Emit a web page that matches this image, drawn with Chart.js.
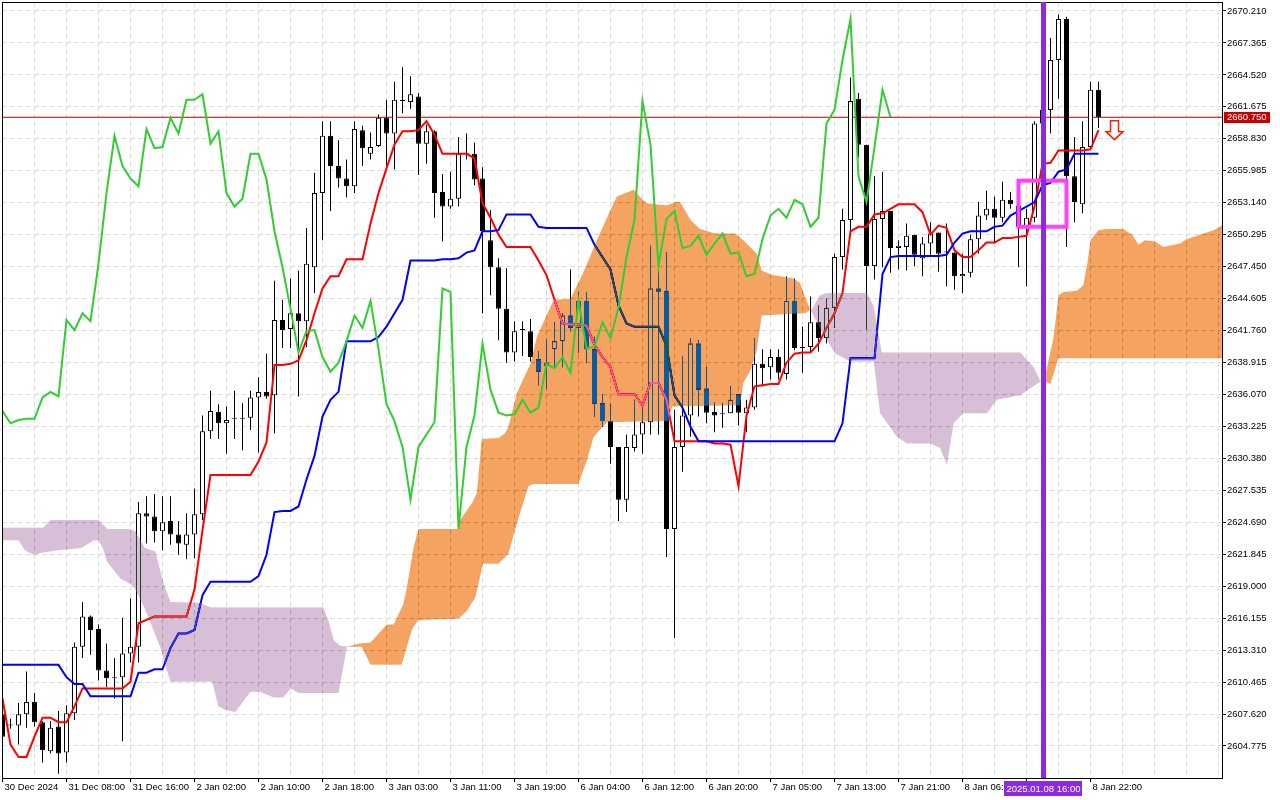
<!DOCTYPE html>
<html>
<head>
<meta charset="utf-8">
<title>XAUUSD H1 Ichimoku</title>
<script src="https://cdn.jsdelivr.net/npm/chart.js@4.4.1/dist/chart.umd.min.js"></script>
<style>
  html, body { margin: 0; padding: 0; background: #fff; }
  #chartBox { width: 1280px; height: 800px; }
</style>
</head>
<body>
<div id="chartBox"><canvas id="ichimokuChart" width="1280" height="800"></canvas></div>
<script>
// H1 candles, index 0 = leftmost bar
const opens = [
  2607.6, 2606.7, 2606.6, 2607.6, 2608.7, 2606.9, 2604.3, 2606.5, 2604.2, 2607.7,
  2613.6, 2616.3, 2615.2, 2611.5, 2610.9, 2610.9, 2613.0, 2613.6, 2625.5, 2625.2,
  2623.9, 2624.8, 2623.6, 2622.7, 2623.6, 2625.4, 2632.8, 2634.5, 2633.5, 2633.9,
  2634.0, 2634.0, 2635.8, 2636.3, 2636.0, 2642.7, 2641.9, 2643.3, 2642.6, 2647.4,
  2654.0, 2659.1, 2656.4, 2655.3, 2654.6, 2659.6, 2657.5, 2658.2, 2660.7, 2659.3,
  2662.2, 2662.1, 2662.6, 2658.4, 2659.5, 2654.1, 2652.8, 2653.5, 2657.5, 2657.5,
  2655.3, 2649.8, 2647.4, 2643.7, 2639.8, 2641.8, 2641.7, 2639.2, 2638.6, 2640.1,
  2640.8, 2643.1, 2642.0, 2644.4, 2640.1, 2635.3, 2633.7, 2631.4, 2626.7, 2631.3,
  2632.5, 2633.6, 2645.5, 2645.3, 2624.1, 2631.4, 2634.2, 2640.6, 2636.6, 2634.5,
  2634.3, 2634.4, 2636.1, 2634.4, 2634.9, 2638.8, 2638.5, 2639.4, 2637.9, 2644.4,
  2640.2, 2640.3, 2642.5, 2641.1, 2643.8, 2648.3, 2651.6, 2662.4, 2658.3, 2647.5,
  2651.7, 2652.4, 2649.1, 2649.2, 2650.3, 2648.2, 2649.5, 2650.5, 2648.7, 2648.7,
  2646.6, 2646.9, 2649.9, 2652.0, 2652.6, 2651.8, 2653.4, 2652.9, 2651.0, 2651.8,
  2660.2, 2661.4, 2665.85, 2669.5, 2655.5, 2653.0, 2658.1, 2663.2
];
const highs = [
  2608.6, 2607.2, 2608.6, 2611.4, 2609.5, 2607.0, 2607.0, 2607.9, 2608.4, 2614.0,
  2617.6, 2616.4, 2615.6, 2613.9, 2612.6, 2616.2, 2617.9, 2626.5, 2627.0, 2627.2,
  2627.0, 2627.0, 2624.8, 2625.5, 2627.7, 2634.2, 2636.4, 2635.2, 2635.0, 2636.4,
  2635.3, 2636.4, 2637.6, 2639.7, 2646.2, 2644.5, 2646.4, 2647.1, 2650.9, 2655.8,
  2660.4, 2660.4, 2658.7, 2657.0, 2660.4, 2660.0, 2659.4, 2661.0, 2662.3, 2663.9,
  2665.2, 2664.4, 2662.9, 2660.1, 2659.6, 2655.7, 2655.9, 2659.0, 2659.3, 2658.5,
  2656.3, 2652.5, 2648.2, 2647.3, 2642.6, 2642.6, 2642.8, 2639.9, 2641.0, 2642.5,
  2643.3, 2647.2, 2645.2, 2645.2, 2641.2, 2636.1, 2635.2, 2631.4, 2632.5, 2635.6,
  2635.0, 2649.3, 2647.5, 2648.7, 2634.7, 2639.5, 2641.1, 2640.9, 2638.5, 2635.4,
  2635.3, 2636.8, 2636.1, 2635.6, 2641.1, 2640.1, 2640.1, 2640.1, 2646.6, 2646.4,
  2642.1, 2644.8, 2644.0, 2644.6, 2648.6, 2652.6, 2664.3, 2662.9, 2658.3, 2655.5,
  2655.9, 2652.4, 2649.8, 2651.3, 2650.3, 2650.1, 2651.4, 2650.5, 2651.3, 2648.7,
  2648.6, 2650.3, 2653.2, 2654.2, 2653.7, 2655.0, 2654.1, 2653.6, 2652.6, 2660.4,
  2662.5, 2667.8, 2669.9, 2669.7, 2659.0, 2660.4, 2663.9, 2663.9
];
const lows = [
  2604.9, 2606.3, 2604.9, 2606.4, 2606.5, 2603.3, 2604.1, 2602.3, 2603.3, 2607.1,
  2612.6, 2612.9, 2610.6, 2610.0, 2609.0, 2605.2, 2612.2, 2612.2, 2622.8, 2622.9,
  2622.2, 2622.7, 2621.8, 2621.4, 2621.5, 2624.9, 2632.1, 2632.1, 2630.8, 2632.1,
  2631.1, 2632.9, 2630.9, 2635.7, 2632.6, 2640.2, 2640.2, 2635.9, 2640.3, 2645.1,
  2649.8, 2652.4, 2654.5, 2653.6, 2654.0, 2656.4, 2657.0, 2658.1, 2656.4, 2656.1,
  2661.1, 2661.5, 2655.6, 2656.6, 2651.8, 2649.7, 2652.6, 2652.8, 2657.0, 2654.7,
  2643.3, 2644.9, 2640.9, 2638.9, 2639.0, 2639.5, 2639.0, 2636.9, 2636.6, 2638.5,
  2638.5, 2641.7, 2639.8, 2638.9, 2634.1, 2633.2, 2629.9, 2624.8, 2625.6, 2631.0,
  2630.8, 2632.5, 2632.5, 2621.6, 2614.4, 2629.2, 2632.3, 2634.1, 2633.5, 2632.7,
  2633.1, 2634.4, 2633.3, 2632.7, 2634.7, 2636.8, 2637.4, 2637.4, 2637.4, 2640.0,
  2638.0, 2639.8, 2639.9, 2640.6, 2642.0, 2647.2, 2650.4, 2657.2, 2641.8, 2646.3,
  2647.4, 2646.9, 2647.2, 2647.1, 2647.5, 2646.6, 2648.5, 2647.0, 2645.7, 2645.4,
  2645.1, 2646.5, 2648.6, 2651.6, 2649.5, 2651.4, 2652.6, 2647.4, 2645.7, 2651.4,
  2657.5, 2659.3, 2662.4, 2649.2, 2651.4, 2652.2, 2657.9, 2659.8
];
const closes = [
  2605.6, 2606.6, 2607.6, 2608.7, 2606.9, 2604.4, 2606.4, 2604.1, 2607.7, 2613.6,
  2616.3, 2615.1, 2611.5, 2610.8, 2610.8, 2613.0, 2613.6, 2625.5, 2625.2, 2623.9,
  2624.7, 2623.6, 2622.8, 2623.6, 2625.4, 2632.8, 2634.6, 2633.5, 2633.8, 2633.9,
  2633.9, 2635.8, 2636.3, 2635.9, 2642.7, 2641.8, 2643.3, 2642.6, 2647.7, 2654.0,
  2659.1, 2656.4, 2655.3, 2654.6, 2659.7, 2658.0, 2658.1, 2660.7, 2659.3, 2662.3,
  2662.3, 2662.8, 2658.4, 2659.5, 2654.0, 2652.8, 2653.5, 2657.5, 2657.5, 2655.2,
  2650.6, 2647.4, 2643.7, 2639.8, 2641.7, 2641.8, 2639.4, 2638.1, 2638.9, 2640.8,
  2643.1, 2642.0, 2644.4, 2640.1, 2635.2, 2633.7, 2631.4, 2626.7, 2631.4, 2632.5,
  2633.6, 2645.5, 2645.2, 2624.1, 2631.4, 2634.2, 2640.6, 2636.5, 2634.45, 2634.2,
  2634.3, 2635.6, 2634.45, 2634.9, 2638.8, 2638.4, 2639.4, 2638.0, 2644.4, 2640.2,
  2640.3, 2642.5, 2641.1, 2643.8, 2648.3, 2651.6, 2662.2, 2658.3, 2647.5, 2651.7,
  2652.4, 2649.1, 2649.3, 2650.2, 2648.5, 2649.5, 2650.4, 2648.6, 2648.7, 2646.6,
  2646.8, 2649.9, 2652.0, 2652.6, 2651.8, 2653.4, 2653.0, 2651.0, 2651.8, 2660.2,
  2661.4, 2665.85, 2669.5, 2655.5, 2653.2, 2658.1, 2663.2, 2660.75
];

// Ichimoku lines
const tenkan = [
  2609.0, 2604.9, 2603.8, 2603.8, 2605.6, 2607.3, 2607.3, 2606.9, 2606.9, 2608.3,
  2609.9, 2609.9, 2609.9, 2609.9, 2609.9, 2609.9, 2610.5, 2615.7, 2616.0, 2616.3,
  2616.3, 2616.3, 2616.3, 2616.3, 2618.7, 2624.0, 2628.9, 2628.9, 2628.9, 2628.9,
  2628.9, 2628.9, 2630.1, 2631.8, 2638.7, 2638.7, 2638.8, 2639.1, 2640.9, 2643.3,
  2645.5, 2646.6, 2646.6, 2648.1, 2648.1, 2648.1, 2651.3, 2654.0, 2656.2, 2658.3,
  2659.5, 2659.5, 2659.6, 2660.4, 2659.2, 2657.5, 2657.5, 2657.5, 2657.5, 2657.1,
  2653.1, 2651.8, 2650.3, 2649.2, 2649.2, 2649.2, 2649.2, 2648.0, 2646.7, 2644.5,
  2642.4, 2642.3, 2642.3, 2642.2, 2640.5, 2639.4, 2638.5, 2636.1, 2636.1, 2636.1,
  2635.1, 2637.1, 2637.1, 2635.6, 2631.9, 2631.9, 2631.9, 2631.9, 2631.9, 2631.7,
  2631.7, 2631.6, 2627.9, 2634.2, 2636.8, 2636.9, 2637.0, 2637.0, 2638.9, 2639.7,
  2639.8, 2639.8, 2640.6, 2642.0, 2643.3, 2645.1, 2650.6, 2651.0, 2651.0, 2652.1,
  2652.2, 2652.6, 2653.0, 2653.0, 2653.0, 2652.3, 2650.3, 2651.1, 2650.9, 2648.9,
  2648.3, 2648.3, 2648.9, 2649.6, 2649.6, 2650.0, 2650.0, 2650.1, 2650.2, 2652.8,
  2656.6, 2656.7, 2657.8, 2657.8, 2657.8, 2657.8, 2657.9, 2659.6
];
const kijun = [
  2612.0, 2612.0, 2612.0, 2612.0, 2612.0, 2612.0, 2612.0, 2612.0, 2610.9, 2610.3,
  2610.3, 2609.2, 2609.2, 2609.2, 2609.2, 2609.2, 2609.2, 2611.3, 2611.3, 2611.6,
  2611.6, 2613.5, 2614.8, 2614.8, 2615.1, 2618.2, 2619.4, 2619.4, 2619.4, 2619.4,
  2619.4, 2619.4, 2619.9, 2621.8, 2625.6, 2625.7, 2625.7, 2626.1, 2628.5, 2630.6,
  2634.1, 2635.6, 2636.3, 2640.8, 2640.8, 2640.8, 2640.8, 2641.2, 2642.1, 2643.3,
  2644.5, 2648.0, 2648.0, 2648.0, 2648.0, 2648.1, 2648.1, 2648.2, 2648.7, 2648.9,
  2650.6, 2650.6, 2650.7, 2652.1, 2652.1, 2652.1, 2652.1, 2651.0, 2650.9, 2650.9,
  2650.9, 2650.9, 2650.9, 2650.9, 2649.4, 2648.3, 2647.2, 2644.0, 2642.4, 2642.1,
  2642.1, 2642.1, 2642.1, 2640.4, 2636.0, 2634.9, 2633.2, 2631.9, 2631.9, 2631.9,
  2631.9, 2631.9, 2631.9, 2631.9, 2631.9, 2631.9, 2631.9, 2631.9, 2631.9, 2631.9,
  2631.9, 2631.9, 2631.9, 2631.9, 2631.9, 2633.5, 2639.3, 2639.3, 2639.3, 2639.3,
  2646.8, 2648.3, 2648.4, 2648.4, 2648.4, 2648.4, 2648.4, 2648.4, 2648.5, 2649.6,
  2650.4, 2650.6, 2650.6, 2650.6, 2651.0, 2651.1, 2652.0, 2652.4, 2652.8, 2653.2,
  2654.7, 2654.9, 2655.9, 2656.1, 2657.5, 2657.5, 2657.5, 2657.5
];
const chikou = [
  2634.6, 2633.5, 2633.8, 2633.9, 2633.9, 2635.8, 2636.3, 2635.9, 2642.7, 2641.8,
  2643.3, 2642.6, 2647.7, 2654.0, 2659.1, 2656.4, 2655.3, 2654.6, 2659.7, 2658.0,
  2658.1, 2660.7, 2659.3, 2662.3, 2662.3, 2662.8, 2658.4, 2659.5, 2654.0, 2652.8,
  2653.5, 2657.5, 2657.5, 2655.2, 2650.6, 2647.4, 2643.7, 2639.8, 2641.7, 2641.8,
  2639.4, 2638.1, 2638.9, 2640.8, 2643.1, 2642.0, 2644.4, 2640.1, 2635.2, 2633.7,
  2631.4, 2626.7, 2631.4, 2632.5, 2633.6, 2645.5, 2645.2, 2624.1, 2631.4, 2634.2,
  2640.6, 2636.5, 2634.45, 2634.2, 2634.3, 2635.6, 2634.45, 2634.9, 2638.8, 2638.4,
  2639.4, 2638.0, 2644.4, 2640.2, 2640.3, 2642.5, 2641.1, 2643.8, 2648.3, 2651.6,
  2662.2, 2658.3, 2647.5, 2651.7, 2652.4, 2649.1, 2649.3, 2650.2, 2648.5, 2649.5,
  2650.4, 2648.6, 2648.7, 2646.6, 2646.8, 2649.9, 2652.0, 2652.6, 2651.8, 2653.4,
  2653.0, 2651.0, 2651.8, 2660.2, 2661.4, 2665.85, 2669.5, 2655.5, 2653.2, 2658.1,
  2663.2, 2660.75
];
// cloud edges: [bar index, price], shifted 26 bars forward
const spanA = [
  [-0.3, 2623.1], [2.0, 2623.1], [2.8, 2622.2], [3.9, 2621.8], [5.1, 2622.0], [7.0, 2622.2],
  [9.9, 2622.4], [11.4, 2623.1], [12.0, 2623.1], [12.6, 2622.3], [13.05, 2621.2], [14.7, 2619.7],
  [16.4, 2619.0], [17.8, 2617.0], [19.7, 2613.6], [20.55, 2611.5], [21.0, 2610.5], [26.2, 2610.5],
  [27.0, 2608.3], [27.8, 2608.0], [29.1, 2607.8], [31.0, 2609.6], [32.2, 2609.6], [33.9, 2609.1],
  [35.1, 2609.1], [36.0, 2609.9], [37.0, 2609.5], [42.0, 2609.5], [42.6, 2611.8], [43.05, 2613.6],
  [43.5, 2613.7], [44.7, 2613.9], [46.0, 2614.0], [48.05, 2615.6], [48.9, 2615.6], [50.1, 2617.4],
  [50.55, 2618.9], [51.4, 2622.5], [52.0, 2624.1], [57.0, 2624.1], [57.2, 2624.9], [58.7, 2626.4],
  [59.3, 2627.3], [59.9, 2632.1], [62.0, 2632.2], [62.8, 2632.6], [63.25, 2633.2], [64.3, 2636.2],
  [66.0, 2638.8], [66.8, 2641.2], [68.9, 2644.5], [71.0, 2644.6], [72.6, 2646.9], [74.3, 2649.8],
  [76.0, 2652.5], [76.8, 2653.7], [78.9, 2654.3], [79.9, 2653.5], [80.55, 2653.1], [83.05, 2652.9],
  [84.1, 2653.2], [84.7, 2653.2], [86.0, 2651.6], [87.2, 2650.8], [89.1, 2650.4], [91.6, 2650.4],
  [92.6, 2649.8], [94.3, 2648.6], [94.9, 2647.1], [96.2, 2646.7], [97.2, 2646.6], [98.9, 2646.4],
  [99.7, 2646.0], [100.3, 2644.8], [101.0, 2643.6], [101.2, 2643.3], [102.8, 2641.2], [104.1, 2639.7],
  [106.0, 2639.0], [108.9, 2639.0], [109.7, 2634.4], [111.8, 2632.3], [113.05, 2631.7], [116.0, 2631.7],
  [117.2, 2631.3], [118.05, 2629.8], [118.9, 2633.5], [120.1, 2634.4], [123.05, 2634.4], [124.3, 2635.6],
  [127.2, 2636.0], [129.7, 2637.2], [130.3, 2637.6], [131.4, 2641.2], [132.0, 2644.9], [132.6, 2645.2],
  [134.3, 2645.3], [135.1, 2645.8], [135.6, 2647.7], [136.0, 2649.8], [137.0, 2650.7], [138.05, 2650.8],
  [140.1, 2650.8], [141.2, 2650.3], [142.0, 2649.4], [142.8, 2649.8], [144.1, 2649.7], [145.1, 2649.2],
  [147.2, 2649.5], [148.0, 2649.9], [149.7, 2650.3], [151.4, 2650.7], [152.4, 2651.1], [153.5, 2651.4]
];
const spanB = [
  [-0.3, 2624.2], [5.1, 2624.2], [6.0, 2624.9], [12.0, 2624.9], [13.1, 2624.1], [15.8, 2624.1],
  [16.6, 2623.9], [17.8, 2622.4], [19.1, 2622.1], [20.1, 2619.3], [21.0, 2617.6], [24.7, 2617.5],
  [26.0, 2617.1], [40.1, 2617.1], [40.75, 2615.9], [41.4, 2614.2], [42.2, 2613.7], [43.25, 2613.6],
  [44.9, 2613.6], [46.0, 2612.0], [49.9, 2612.0], [50.55, 2613.6], [51.2, 2615.2], [52.0, 2616.0],
  [57.0, 2616.1], [58.05, 2616.8], [59.1, 2618.0], [59.5, 2619.2], [60.05, 2621.0], [62.0, 2621.0],
  [63.25, 2621.9], [64.3, 2624.6], [65.75, 2627.9], [66.4, 2628.1], [72.0, 2628.1], [73.05, 2630.2],
  [73.9, 2632.3], [75.55, 2633.6], [83.25, 2633.7], [83.7, 2635.0], [92.2, 2635.1], [92.6, 2637.1],
  [93.5, 2638.2], [94.3, 2640.0], [94.9, 2643.1], [100.3, 2643.3], [101.2, 2643.7], [102.2, 2644.9],
  [103.05, 2645.1], [108.05, 2645.1], [108.9, 2643.9], [109.7, 2640.6], [109.9, 2639.8], [127.2, 2639.8],
  [128.9, 2638.5], [129.7, 2637.3], [130.3, 2637.2], [131.0, 2637.0], [132.0, 2639.3], [153.5, 2639.3]
];

const priceTicks = [
  2604.775, 2607.620, 2610.465, 2613.310, 2616.155, 2619.000, 2621.845, 2624.690,
  2627.535, 2630.380, 2633.225, 2636.070, 2638.915, 2641.760, 2644.605, 2647.450,
  2650.295, 2653.140, 2655.985, 2658.830, 2661.675, 2664.520, 2667.365, 2670.210
];
const timeLabels = [
  [0, '30 Dec 2024'], [8, '31 Dec 08:00'], [16, '31 Dec 16:00'], [24, '2 Jan 02:00'],
  [32, '2 Jan 10:00'], [40, '2 Jan 18:00'], [48, '3 Jan 03:00'], [56, '3 Jan 11:00'],
  [64, '3 Jan 19:00'], [72, '6 Jan 04:00'], [80, '6 Jan 12:00'], [88, '6 Jan 20:00'],
  [96, '7 Jan 05:00'], [104, '7 Jan 13:00'], [112, '7 Jan 21:00'], [120, '8 Jan 06:00'],
  [128, ''], [136, '8 Jan 22:00']
];

// objects placed on the chart
const bidPrice = 2660.75;
const markBar = 130;
const markText = '2025.01.08 16:00';
const boxBars = [127, 133];
const boxPrices = [2651.0, 2655.1];
const arrowBar = 139;
const arrowPrice = 2660.45;

const X_MIN = -0.0625, X_MAX = 152.4375;
const Y_MIN = 2601.926, Y_MAX = 2671.011;
const GRID = '#dcdcdc';
const AXIS_FONT = "'Liberation Sans', Arial, sans-serif";
const TIME_FONT = "'Liberation Sans Narrow', 'Liberation Sans', sans-serif";

const labelAt = new Map(timeLabels);
const gridBars = [];
for (let i = 0; i <= 152; i += 4) gridBars.push(i);

const toPts = arr => arr.map((v, i) => ({ x: i, y: v }));
const pairPts = arr => arr.map(p => ({ x: p[0], y: p[1] }));

const ichimokuPlugin = {
  id: 'ichimokuPlugin',
  beforeDraw(chart) {
    const c = chart.ctx;
    c.save();
    c.fillStyle = '#fff';
    c.fillRect(0, 0, chart.width, chart.height);
    c.restore();
  },
  afterDatasetDraw(chart, args) {
    // MT4 paints the cloud inverted over what is under it
    if (args.index === 3) chart.ctx.globalCompositeOperation = 'difference';
    if (args.index === 4) chart.ctx.globalCompositeOperation = 'source-over';
  },
  afterDraw(chart) {
    const { ctx, chartArea: a, scales: { x, y } } = chart;
    ctx.save();
    ctx.globalCompositeOperation = 'source-over';

    // frame
    ctx.strokeStyle = '#000';
    ctx.lineWidth = 1;
    ctx.strokeRect(a.left + 0.5, a.top + 0.5, a.right - a.left, a.bottom - a.top);

    // rectangle
    const bx0 = x.getPixelForValue(boxBars[0]), bx1 = x.getPixelForValue(boxBars[1]);
    const by0 = y.getPixelForValue(boxPrices[1]), by1 = y.getPixelForValue(boxPrices[0]);
    ctx.strokeStyle = '#ff40ff';
    ctx.lineWidth = 4;
    ctx.strokeRect(bx0, by0, bx1 - bx0, by1 - by0);

    // vertical line
    const mx = Math.round(x.getPixelForValue(markBar));
    ctx.fillStyle = '#8a2be2';
    ctx.fillRect(mx - 2, a.top, 5, a.bottom - a.top);

    // sell arrow
    const ax = x.getPixelForValue(arrowBar), ay = y.getPixelForValue(arrowPrice);
    ctx.beginPath();
    ctx.moveTo(ax - 4, ay);
    ctx.lineTo(ax + 4, ay);
    ctx.lineTo(ax + 4, ay + 11);
    ctx.lineTo(ax + 8.5, ay + 11);
    ctx.lineTo(ax, ay + 19);
    ctx.lineTo(ax - 8.5, ay + 11);
    ctx.lineTo(ax - 4, ay + 11);
    ctx.closePath();
    ctx.fillStyle = '#fff';
    ctx.fill();
    ctx.strokeStyle = '#ff2000';
    ctx.lineWidth = 1.5;
    ctx.stroke();

    // bid label on price scale
    const bidY = Math.round(y.getPixelForValue(bidPrice));
    ctx.fillStyle = '#c80000';
    ctx.fillRect(a.right + 2, bidY - 5, 46, 11);
    ctx.fillStyle = '#fff';
    ctx.font = '9.5px ' + AXIS_FONT;
    ctx.textAlign = 'left';
    ctx.textBaseline = 'middle';
    ctx.fillText(bidPrice.toFixed(3), a.right + 5, bidY + 0.5);

    // time label of the vertical line
    ctx.fillStyle = '#8a2be2';
    ctx.fillRect(mx - 39, a.bottom + 3, 78, 15);
    ctx.fillStyle = '#fff';
    ctx.textAlign = 'center';
    ctx.font = '9.5px ' + TIME_FONT;
    ctx.fillText(markText, mx + 0.5, a.bottom + 11);
    ctx.restore();
  }
};

new Chart(document.getElementById('ichimokuChart'), {
  type: 'bar',
  data: {
    datasets: [
      {
        label: 'wicks',
        data: highs.map((h, i) => ({ x: i, y: [lows[i], h] })),
        backgroundColor: '#000',
        borderWidth: 0,
        barThickness: 1,
        minBarLength: 1,
        inflateAmount: 0,
        stack: 'candle',
        order: 10
      },
      {
        label: 'bodies',
        data: opens.map((o, i) => ({ x: i, y: [o, closes[i]] })),
        backgroundColor: closes.map((c, i) => (c >= opens[i] ? '#fff' : '#000')),
        borderColor: '#000',
        borderWidth: 1,
        borderSkipped: false,
        barThickness: 5,
        minBarLength: 1,
        inflateAmount: 0,
        stack: 'candle',
        order: 9
      },
      {
        type: 'line', label: 'Tenkan-sen', data: toPts(tenkan),
        borderColor: '#ff0000', borderWidth: 2, pointRadius: 0, fill: false, order: 8
      },
      {
        type: 'line', label: 'Kijun-sen', data: toPts(kijun),
        borderColor: '#0000ff', borderWidth: 2, pointRadius: 0, fill: false, order: 7
      },
      {
        type: 'line', label: 'Senkou Span A', data: pairPts(spanA),
        borderColor: 'rgba(0,0,0,0)', borderWidth: 0, pointRadius: 0,
        // inverted SandyBrown / Thistle
        fill: { target: '+1', above: 'rgb(11,91,159)', below: 'rgb(39,64,39)' },
        order: 6
      },
      {
        type: 'line', label: 'Senkou Span B', data: pairPts(spanB),
        borderColor: 'rgba(0,0,0,0)', borderWidth: 0, pointRadius: 0, fill: false, order: 5
      },
      {
        type: 'line', label: 'Chikou Span', data: toPts(chikou),
        borderColor: 'rgb(50,205,50)', borderWidth: 2, pointRadius: 0, fill: false, order: 4
      },
      {
        type: 'line', label: 'Bid',
        data: [{ x: X_MIN - 1, y: bidPrice }, { x: X_MAX + 1, y: bidPrice }],
        borderColor: '#b40000', borderWidth: 1, pointRadius: 0, fill: false, order: 11
      }
    ]
  },
  options: {
    responsive: false,
    devicePixelRatio: 1,
    animation: false,
    events: [],
    layout: { padding: { left: 2, top: 2, right: 0, bottom: 0 } },
    plugins: { legend: { display: false }, tooltip: { enabled: false } },
    scales: {
      x: {
        type: 'linear',
        min: X_MIN,
        max: X_MAX,
        offset: false,
        grid: {
          offset: false,
          color: c => (c.tick && c.tick.value === 0 ? 'rgba(0,0,0,0)' : GRID),
          tickColor: c => (c.tick && labelAt.has(c.tick.value) ? '#000' : 'rgba(0,0,0,0)'),
          tickLength: 4
        },
        border: { color: '#000', width: 1, dash: [5, 3] },
        afterBuildTicks: s => { s.ticks = gridBars.map(v => ({ value: v })); },
        ticks: {
          autoSkip: false,
          maxRotation: 0,
          minRotation: 0,
          align: 'start',
          labelOffset: 2,
          padding: 0,
          color: '#000',
          font: { family: TIME_FONT, size: 9.5 },
          callback: v => labelAt.get(v) || ''
        },
        afterFit: s => {
          s.height = 22;
          s.paddingLeft = 0; s.paddingRight = 0;
        }
      },
      y: {
        type: 'linear',
        position: 'right',
        min: Y_MIN,
        max: Y_MAX,
        stacked: false,
        grid: { color: GRID, tickColor: '#000', tickLength: 4 },
        border: { color: '#000', width: 1, dash: [5, 3] },
        afterBuildTicks: s => { s.ticks = priceTicks.map(v => ({ value: v })); },
        ticks: {
          autoSkip: false,
          padding: 1,
          color: '#000',
          font: { family: AXIS_FONT, size: 9.5 },
          callback: v => v.toFixed(3)
        },
        afterFit: s => {
          s.width = 58;
          s.paddingTop = 0; s.paddingBottom = 0;
        }
      }
    }
  },
  plugins: [ichimokuPlugin]
});
</script>
</body>
</html>
